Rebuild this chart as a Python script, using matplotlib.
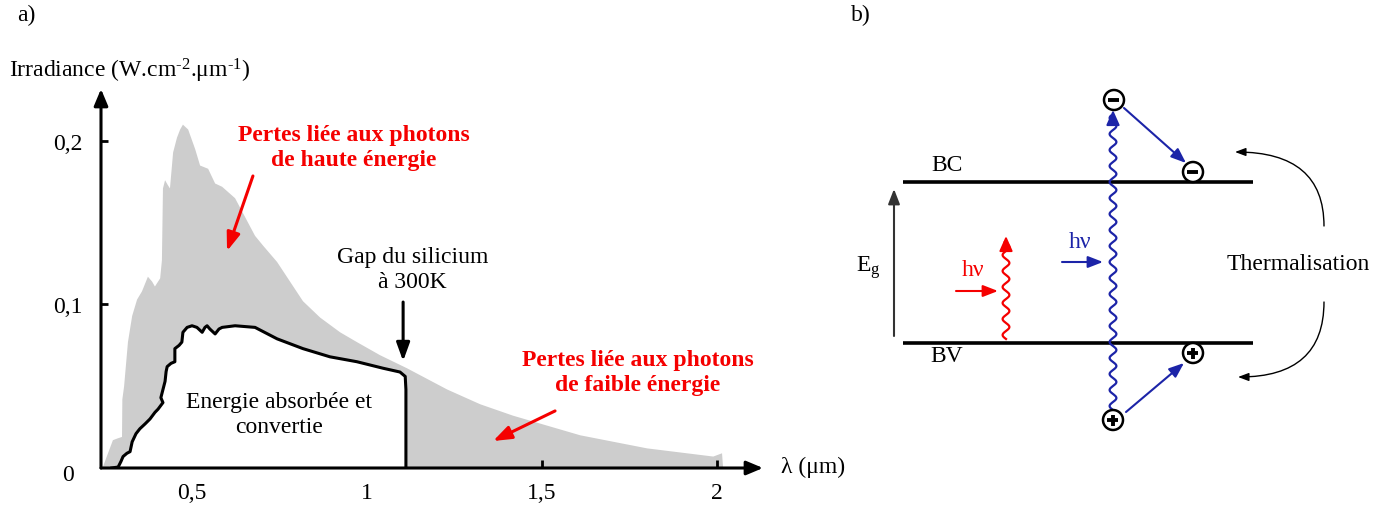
import numpy as np
import matplotlib
matplotlib.use("Agg")
import matplotlib.pyplot as plt
from matplotlib.patches import FancyArrowPatch, Circle

plt.rcParams['font.family'] = ['Liberation Serif', 'DejaVu Serif']
plt.rcParams['mathtext.fontset'] = 'custom'
plt.rcParams['mathtext.rm'] = 'Liberation Serif'
plt.rcParams['mathtext.it'] = 'Liberation Serif:italic'
plt.rcParams['mathtext.bf'] = 'Liberation Serif:bold'

# ── Solar spectrum (wavelength in µm, irradiance in W.cm-2.µm-1) ─────────────
spec_wl = [0.240, 0.246, 0.260, 0.274, 0.286, 0.300, 0.301, 0.306, 0.317, 0.329,
           0.343, 0.357, 0.374, 0.386, 0.394, 0.409, 0.414, 0.417, 0.423, 0.431,
           0.437, 0.446, 0.457, 0.466, 0.474, 0.489, 0.509, 0.523, 0.546, 0.566,
           0.586, 0.623, 0.680, 0.703, 0.743, 0.780, 0.817, 0.866, 0.923, 0.971,
           1.037, 1.114, 1.229, 1.323, 1.417, 1.609, 1.800, 1.989, 2.014, 2.017]
spec_irr = [0.0, 0.001, 0.009, 0.017, 0.018, 0.019, 0.042, 0.050, 0.077, 0.093,
            0.103, 0.108, 0.117, 0.114, 0.111, 0.116, 0.127, 0.171, 0.176, 0.173,
            0.171, 0.193, 0.202, 0.207, 0.210, 0.207, 0.195, 0.185, 0.183, 0.174,
            0.172, 0.165, 0.142, 0.136, 0.126, 0.114, 0.102, 0.092, 0.083, 0.077,
            0.069, 0.061, 0.048, 0.039, 0.032, 0.020, 0.012, 0.007, 0.009, 0.0]

# part of the spectrum absorbed and converted by silicon (cut at the gap)
abs_wl = [0.271, 0.289, 0.297, 0.303, 0.314, 0.323, 0.329, 0.340, 0.351, 0.366,
          0.380, 0.394, 0.403, 0.417, 0.411, 0.417, 0.423, 0.426, 0.429, 0.440,
          0.451, 0.451, 0.463, 0.471, 0.474, 0.486, 0.500, 0.514, 0.529, 0.537,
          0.543, 0.551, 0.566, 0.577, 0.586, 0.623, 0.680, 0.743, 0.817, 0.894,
          0.971, 1.046, 1.094, 1.109, 1.111, 1.111]
abs_irr = [0.0, 0.0006, 0.004, 0.007, 0.009, 0.010, 0.016, 0.021, 0.024, 0.027,
           0.030, 0.034, 0.036, 0.040, 0.043, 0.048, 0.053, 0.059, 0.062, 0.064,
           0.065, 0.073, 0.075, 0.077, 0.083, 0.086, 0.087, 0.086, 0.083, 0.086,
           0.087, 0.085, 0.082, 0.085, 0.086, 0.087, 0.086, 0.079, 0.073, 0.068,
           0.065, 0.061, 0.0587, 0.056, 0.048, 0.0]

x_ticks = [0.5, 1, 1.5, 2]
x_ticklabels = ['0,5', '1', '1,5', '2']
y_ticks = [0.1, 0.2]
y_ticklabels = ['0,1', '0,2']

GREY = '#cdcdcd'
RED = '#f50000'
BLUE = '#1c24a8'
FS = 17

W, H = 1388, 506
fig = plt.figure(figsize=(W / 100, H / 100), dpi=100)

# ══════════════════════════════════════════════════════════════════════════════
# a) spectrum
# ══════════════════════════════════════════════════════════════════════════════
ax = fig.add_axes([101 / W, (H - 469) / H, (763 - 101) / W, (469 - 90) / H])
ax.set_xlim(0.24, 2.131)
ax.set_ylim(0, 0.2318)

ax.fill(spec_wl, spec_irr, color=GREY, lw=0, zorder=1)
ax.fill(abs_wl, abs_irr, color='white', lw=0, zorder=2)
ax.plot(abs_wl, abs_irr, color='k', lw=2.2, solid_joinstyle='round', zorder=3)

for s in ax.spines.values():
    s.set_visible(False)
for xy in [(1, 0), (0, 1)]:
    ax.annotate('', xy=xy, xytext=(0, 0), xycoords='axes fraction',
                arrowprops=dict(arrowstyle='-|>,head_length=1.0,head_width=0.42',
                                mutation_scale=10, lw=2.2, color='k',
                                shrinkA=0, shrinkB=0),
                annotation_clip=False, zorder=5)

ax.set_xticks(x_ticks, x_ticklabels)
ax.set_yticks(y_ticks, y_ticklabels)
ax.tick_params(axis='x', direction='in', length=6, width=2, labelsize=FS, pad=10)
ax.tick_params(axis='y', direction='in', length=5, width=2, labelsize=FS, pad=24)
for lab in ax.get_yticklabels():
    lab.set_horizontalalignment('center')
# origin label, sits a little below the x axis
ax.annotate('0', xy=(0, 0), xycoords='axes fraction', xytext=(-24, -4.5),
            textcoords='offset points', fontsize=FS, ha='center', va='center',
            annotation_clip=False)

ax.text(0.963, 0.1963, 'Pertes liée aux photons\nde haute énergie', color=RED,
        fontsize=FS, fontweight='bold', ha='center', va='center', linespacing=1.25)
ax.annotate('', xy=(0.600, 0.1327), xytext=(0.674, 0.1786),
            arrowprops=dict(arrowstyle='-|>,head_length=1.1,head_width=0.4',
                            mutation_scale=10, lw=2.2, color=RED,
                            shrinkA=0, shrinkB=0))

ax.text(1.129, 0.1217, 'Gap du silicium\nà 300K', fontsize=FS, ha='center',
        va='center', linespacing=1.3)
ax.annotate('', xy=(1.103, 0.0654), xytext=(1.103, 0.1015),
            arrowprops=dict(arrowstyle='-|>,head_length=1.1,head_width=0.4',
                            mutation_scale=10, lw=2.2, color='k',
                            shrinkA=0, shrinkB=0))

ax.text(0.749, 0.0330, 'Energie absorbée et\nconvertie', fontsize=FS,
        ha='center', va='center', linespacing=1.3, zorder=4)

ax.text(1.774, 0.0587, 'Pertes liée aux photons\nde faible énergie', color=RED,
        fontsize=FS, fontweight='bold', ha='center', va='center', linespacing=1.25)
ax.annotate('', xy=(1.360, 0.0165), xytext=(1.537, 0.0349),
            arrowprops=dict(arrowstyle='-|>,head_length=1.1,head_width=0.4',
                            mutation_scale=10, lw=2.2, color=RED,
                            shrinkA=0, shrinkB=0))

fig.text(17 / W, 1 - 15 / H, 'a)', fontsize=FS, ha='left', va='center')
fig.text(9 / W, 1 - 71 / H,
         r'Irradiance (W.cm$^{\text{-2}}$.μm$^{\text{-1}}$)',
         fontsize=FS, ha='left', va='center')
fig.text(781 / W, 1 - 467 / H, 'λ (μm)', fontsize=FS, ha='left', va='center')

# ══════════════════════════════════════════════════════════════════════════════
# b) band diagram (pixel-like coordinates)
# ══════════════════════════════════════════════════════════════════════════════
bx = fig.add_axes([0, 0, 1, 1], facecolor='none')
bx.set_xlim(0, W)
bx.set_ylim(H, 0)
bx.axis('off')

BC_Y, BV_Y = 183, 344
BAND_X0, BAND_X1 = 903, 1253


def arrow(ax, start, end, color, lw=1.5, ms=10, hl=0.9, hw=0.35, style=None):
    ax.add_patch(FancyArrowPatch(start, end,
                                 arrowstyle=f'-|>,head_length={hl},head_width={hw}',
                                 mutation_scale=ms, lw=lw, color=color,
                                 shrinkA=0, shrinkB=0,
                                 connectionstyle=style or 'arc3,rad=0'))


def wavy(ax, x0, y_bot, y_top, color, period=16, amp=3.4):
    y = np.linspace(y_bot, y_top + 6, 400)
    x = x0 + amp * np.sin(2 * np.pi * (y - y_bot) / period)
    ax.plot(x, y, color=color, lw=1.6)
    arrow(ax, (x0, y_top + 7), (x0, y_top), color, lw=1.5, ms=10, hl=0.9, hw=0.4)


def carrier(ax, cx, cy, sign):
    ax.add_patch(Circle((cx, cy), 10, facecolor='white', edgecolor='k', lw=1.8,
                        zorder=6))
    ax.plot([cx - 5.5, cx + 5.5], [cy, cy], color='k', lw=2.8, zorder=7,
            solid_capstyle='butt')
    if sign > 0:
        ax.plot([cx, cx], [cy - 5.5, cy + 5.5], color='k', lw=2.8, zorder=7,
                solid_capstyle='butt')


fig.text(851 / W, 1 - 15 / H, 'b)', fontsize=FS, ha='left', va='center')

bx.plot([BAND_X0, BAND_X1], [BC_Y, BC_Y], color='k', lw=2.6, solid_capstyle='butt')
bx.plot([BAND_X0, BAND_X1], [BV_Y, BV_Y], color='k', lw=2.6, solid_capstyle='butt')
bx.text(947, 165, 'BC', fontsize=FS, ha='center', va='center')
bx.text(947, 357, 'BV', fontsize=FS, ha='center', va='center')

arrow(bx, (894, 337), (894, 190), '#333333', lw=1.5, ms=10, hl=0.9, hw=0.35)
bx.text(868, 268, r'E$_{\mathrm{g}}$', fontsize=FS, ha='center', va='center')

# low energy photon: excitation within the gap only
wavy(bx, 1006, 340, 237, RED)
bx.text(973, 271, 'hν', fontsize=FS, color=RED, ha='center', va='center')
arrow(bx, (956, 292), (998, 292), RED, lw=1.5, ms=10, hl=0.9, hw=0.35)

# high energy photon: electron/hole pair far from the band edges
wavy(bx, 1113, 411, 111, BLUE)
bx.text(1080, 242, 'hν', fontsize=FS, color=BLUE, ha='center', va='center')
arrow(bx, (1062, 263), (1103, 263), BLUE, lw=1.5, ms=10, hl=0.9, hw=0.35)

carrier(bx, 1114, 101, -1)
carrier(bx, 1193, 173, -1)
carrier(bx, 1113, 421, +1)
carrier(bx, 1193, 354, +1)
arrow(bx, (1124, 109), (1186, 164), BLUE, lw=1.5, ms=10, hl=0.9, hw=0.35)
arrow(bx, (1126, 413), (1184, 364), BLUE, lw=1.5, ms=10, hl=0.9, hw=0.35)

bx.text(1298, 265, 'Thermalisation', fontsize=FS, ha='center', va='center')
arrow(bx, (1324, 227), (1235, 153), 'k', lw=1.0, ms=8, hl=0.8, hw=0.3,
      style='angle3,angleA=90,angleB=0')
arrow(bx, (1324, 303), (1238, 378), 'k', lw=1.0, ms=8, hl=0.8, hw=0.3,
      style='angle3,angleA=90,angleB=0')

fig.savefig('out.png', dpi=100)
